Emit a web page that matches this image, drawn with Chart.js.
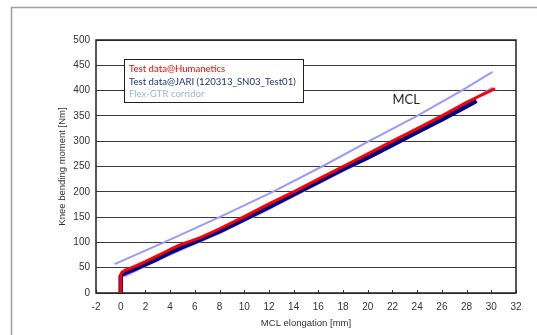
<!DOCTYPE html>
<html>
<head>
<meta charset="utf-8">
<script src="https://cdn.jsdelivr.net/npm/chart.js@4/dist/chart.umd.min.js"></script>
<style>
  html, body { margin: 0; padding: 0; background: #ffffff; }
  canvas { display: block; }
</style>
</head>
<body>
<canvas id="chart" width="537" height="335"></canvas>
<script>
// MCL elongation [mm] vs knee bending moment [Nm]
const humaneticsX = [0, 0, 0.1, 0.35, 1, 2, 3, 4, 5, 5.6, 6.5, 8, 10, 12, 14, 16, 18, 20, 22, 24, 26, 28, 30.3];
const humaneticsY = [0, 36, 41, 45, 51, 62, 74, 86, 97, 102, 110, 127, 151, 176, 200, 225, 250, 275, 300, 325, 350, 377, 404];

const jariX = [0, 0, 0.15, 0.4, 1, 2, 3, 4, 5, 6, 8, 10, 12, 14, 16, 18, 20, 22, 24, 26, 28, 28.8];
const jariY = [0, 33, 37, 40, 46, 57, 68, 80, 91, 101, 122, 146, 170, 195, 220, 245, 268, 293, 318, 343, 369, 380];

const corridorUpperX = [-0.5, 3.5, 8, 12.3, 16.3, 20.1, 24, 27.6, 30.1];
const corridorUpperY = [57, 100, 150, 200, 250, 300, 350, 400, 437];

const corridorLowerX = [0.3, 2, 4, 6, 8, 10, 12, 14, 16, 18, 20, 22, 24, 26, 28, 30.1];
const corridorLowerY = [33, 53, 76, 97, 118, 142, 166, 191, 216, 241, 265, 290, 316, 342, 375, 406];

const legendLabels = ['Test data@Humanetics', 'Test data@JARI (120313_SN03_Test01)', 'Flex-GTR corridor'];
const legendColors = ['#ff0000', '#1f3470', '#9fb3e3'];
const curveLabel = 'MCL';

const xTitle = 'MCL elongation [mm]';
const yTitle = 'Knee bending moment [Nm]';

const pts = (xs, ys) => xs.map((x, i) => ({ x: x, y: ys[i] }));

const tickFont = { family: '"Liberation Sans", Arial, sans-serif', size: 10 };
const titleFont = { family: '"Liberation Sans", Arial, sans-serif', size: 9.5 };
const textFont = 'Lato, "Open Sans", sans-serif';

const decorations = {
  id: 'decorations',
  beforeDraw(chart) {
    const c = chart.ctx;
    c.save();
    c.fillStyle = '#ffffff';
    c.fillRect(0, 0, chart.width, chart.height);
    // outer sheet frame
    c.strokeStyle = '#a0a0a0';
    c.lineWidth = 1.5;
    c.strokeRect(11.5, 7.5, 700, 500);
    c.restore();
  },
  beforeDatasetsDraw(chart) {
    const c = chart.ctx;
    const a = chart.chartArea;
    const xs = chart.scales.x;
    c.save();
    // inward tick marks on the x axis
    c.strokeStyle = '#333333';
    c.lineWidth = 1;
    for (let v = -2; v <= 32; v += 2) {
      const px = Math.round(xs.getPixelForValue(v)) + 0.5;
      c.beginPath();
      c.moveTo(px, a.bottom);
      c.lineTo(px, a.bottom - 3);
      c.stroke();
    }
    // plot frame
    c.strokeStyle = '#202020';
    c.lineWidth = 1.5;
    c.strokeRect(a.left, a.top, a.right - a.left, a.bottom - a.top);
    c.restore();
  },
  afterDraw(chart) {
    const c = chart.ctx;
    const xs = chart.scales.x, ys = chart.scales.y;
    c.save();
    // legend box
    const bx = 124.5, by = 59.5, bw = 179, bh = 43;
    c.fillStyle = '#ffffff';
    c.fillRect(bx, by, bw, bh);
    c.strokeStyle = '#202020';
    c.lineWidth = 1;
    c.strokeRect(bx, by, bw, bh);
    c.font = '9.6px ' + textFont;
    c.textAlign = 'left';
    c.textBaseline = 'middle';
    const rows = [69, 82, 94];
    legendLabels.forEach((t, i) => {
      c.fillStyle = legendColors[i];
      c.fillText(t, 129, rows[i]);
    });
    // curve annotation
    c.font = '13px ' + textFont;
    c.fillStyle = '#222222';
    c.fillText(curveLabel, xs.getPixelForValue(22), ys.getPixelForValue(381));
    c.restore();
  }
};

new Chart(document.getElementById('chart'), {
  type: 'scatter',
  data: {
    datasets: [
      { label: legendLabels[0], data: pts(humaneticsX, humaneticsY), borderColor: '#ff0000', borderWidth: 3, order: 0 },
      { label: legendLabels[1], data: pts(jariX, jariY), borderColor: '#000080', borderWidth: 4.5, order: 1 },
      { label: legendLabels[2], data: pts(corridorUpperX, corridorUpperY), borderColor: '#9999ff', borderWidth: 2, order: 2 },
      { label: legendLabels[2], data: pts(corridorLowerX, corridorLowerY), borderColor: '#9999ff', borderWidth: 2, order: 2 }
    ].map(d => Object.assign(d, { showLine: true, pointRadius: 0, tension: 0, fill: false, borderJoinStyle: 'round', borderCapStyle: 'butt' }))
  },
  options: {
    responsive: false,
    animation: false,
    events: [],
    layout: { padding: { left: 57, right: 21, top: 40, bottom: 6 } },
    plugins: { legend: { display: false }, tooltip: { enabled: false } },
    scales: {
      x: {
        type: 'linear', min: -2, max: 32,
        ticks: { stepSize: 2, autoSkip: false, maxRotation: 0, padding: 8, color: '#333333', font: tickFont },
        grid: { display: false, drawTicks: false },
        border: { display: false },
        title: { display: true, text: xTitle, color: '#333333', font: titleFont, padding: 0 },
        afterFit(s) { s.height = 36; }
      },
      y: {
        min: 0, max: 500,
        ticks: { stepSize: 50, padding: 6, color: '#333333', font: tickFont },
        grid: { color: '#3a3a3a', lineWidth: 1, drawTicks: false },
        border: { display: false },
        title: { display: true, text: yTitle, color: '#333333', font: titleFont, padding: 0 },
        afterFit(s) { s.width = 39; }
      }
    }
  },
  plugins: [decorations]
});
</script>
</body>
</html>
